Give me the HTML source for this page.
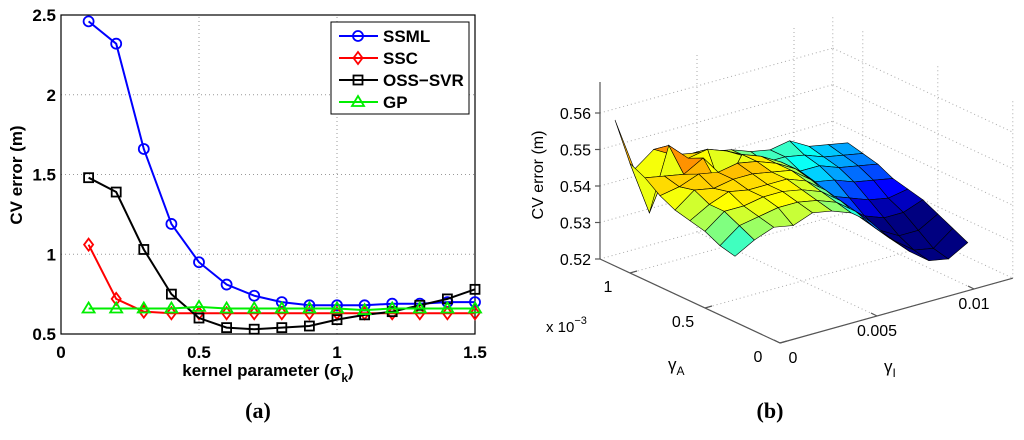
<!DOCTYPE html>
<html><head><meta charset="utf-8"><style>
body{margin:0;background:#fff;width:1024px;height:440px;overflow:hidden}
svg{display:block}
text{font-family:"Liberation Sans",sans-serif}
</style></head><body>
<svg id="fig" width="1024" height="440">
<g id="left"></g>
<g id="right"></g>
<text x="258" y="418" text-anchor="middle" font-size="22" font-weight="bold" style="font-family:'Liberation Serif',serif">(a)</text>
<text x="770" y="418" text-anchor="middle" font-size="22" font-weight="bold" style="font-family:'Liberation Serif',serif">(b)</text>
</svg>
<script>
const xs=[0.1,0.2,0.3,0.4,0.5,0.6,0.7,0.8,0.9,1.0,1.1,1.2,1.3,1.4,1.5];
const ssml=[2.46,2.32,1.66,1.19,0.95,0.81,0.74,0.70,0.68,0.68,0.68,0.69,0.69,0.70,0.70];
const ssc=[1.06,0.72,0.64,0.63,0.63,0.63,0.63,0.63,0.63,0.63,0.63,0.63,0.63,0.63,0.63];
const oss=[1.48,1.39,1.03,0.75,0.60,0.54,0.53,0.54,0.55,0.59,0.62,0.64,0.68,0.72,0.78];
const gp=[0.66,0.66,0.66,0.66,0.67,0.66,0.66,0.66,0.66,0.66,0.65,0.66,0.66,0.66,0.66];
const xTicks=[0,0.5,1,1.5];
const yTicks=[0.5,1,1.5,2,2.5];
const xTickLabels=["0","0.5","1","1.5"];
const yTickLabels=["0.5","1","1.5","2","2.5"];
// 3D surface data: rows over gammaA (x1e-3), columns over gammaI
const gA=[1.1,1.0,0.9,0.8,0.7,0.6,0.5,0.4,0.3];
const gI=[0,0.001,0.002,0.003,0.004,0.005,0.006,0.007,0.008,0.009,0.010,0.011,0.012];
const zVals=[
[0.560,0.545,0.549,0.546,0.545,0.544,0.543,0.541,0.540,0.541,0.538,0.537,0.536],
[0.550,0.535,0.552,0.547,0.548,0.546,0.543,0.540,0.540,0.539,0.537,0.536,0.535],
[0.548,0.547,0.546,0.549,0.538,0.547,0.545,0.542,0.538,0.538,0.536,0.535,0.534],
[0.545,0.546,0.548,0.547,0.548,0.547,0.545,0.542,0.537,0.536,0.534,0.533,0.532],
[0.543,0.547,0.546,0.547,0.547,0.546,0.545,0.541,0.535,0.533,0.531,0.530,0.531],
[0.542,0.545,0.547,0.546,0.546,0.546,0.544,0.540,0.534,0.530,0.528,0.528,0.530],
[0.541,0.545,0.545,0.546,0.546,0.545,0.543,0.539,0.533,0.528,0.525,0.525,0.528],
[0.539,0.543,0.544,0.545,0.545,0.544,0.542,0.538,0.532,0.527,0.523,0.522,0.526],
[0.538,0.541,0.543,0.542,0.544,0.543,0.541,0.537,0.531,0.526,0.522,0.521,0.524]];
const zTicks=[0.52,0.53,0.54,0.55,0.56];
const aTicks=[0,0.5,1];
const iTicks=[0,0.005,0.01];

const NS="http://www.w3.org/2000/svg";
function mk(p,tag,at,txt){const e=document.createElementNS(NS,tag);for(const k in at)e.setAttribute(k,at[k]);if(txt!==undefined)e.textContent=txt;p.appendChild(e);return e;}

// ---- left chart
const L=document.getElementById('left');
const X0=61,X1=475,Y0=334,Y1=15;
const sx=v=>X0+(v-0)/1.5*(X1-X0);
const sy=v=>Y0-(v-0.5)/2*(Y0-Y1);
xTicks.forEach((t,i)=>{
  if(i>0&&i<xTicks.length-1){const g=mk(L,'line',{x1:sx(t),x2:sx(t),y1:Y0,y2:Y1,stroke:'#999','stroke-dasharray':'1,3'});}
  const tx=mk(L,'text',{x:sx(t),y:Y0+24,'text-anchor':'middle','font-size':17,'font-weight':'bold'},xTickLabels[i]);
  
});
yTicks.forEach((t,i)=>{
  if(i>0&&i<yTicks.length-1){const g=mk(L,'line',{x1:X0,x2:X1,y1:sy(t),y2:sy(t),stroke:'#999','stroke-dasharray':'1,3'});}
  const tx=mk(L,'text',{x:X0-5,y:sy(t)+6,'text-anchor':'end','font-size':17,'font-weight':'bold'},yTickLabels[i]);
  
});
const box=mk(L,'rect',{x:X0,y:Y1,width:X1-X0,height:Y0-Y1,fill:'none',stroke:'#000','stroke-width':1.2});

const xl=mk(L,'text',{x:268,y:376,'text-anchor':'middle','font-size':17,'font-weight':'bold'},'kernel parameter (σ');

mk(xl,'tspan',{dy:6,'font-size':12},'k');mk(xl,'tspan',{dy:-6},')');
const yl=mk(L,'text',{x:22,y:175,'text-anchor':'middle','font-size':17,'font-weight':'bold',transform:'rotate(-90 22 175)'},'CV error (m)');


function marker(g,type,x,y,c){
  let e;
  if(type==='o')e=mk(g,'circle',{cx:x,cy:y,r:5,fill:'none',stroke:c,'stroke-width':1.8});
  else if(type==='d')e=mk(g,'polygon',{points:`${x},${y-6} ${x+4.5},${y} ${x},${y+6} ${x-4.5},${y}`,fill:'none',stroke:c,'stroke-width':1.8});
  else if(type==='s')e=mk(g,'rect',{x:x-4.5,y:y-4.5,width:9,height:9,fill:'none',stroke:c,'stroke-width':1.8});
  else e=mk(g,'polygon',{points:`${x},${y-6} ${x+6},${y+4} ${x-6},${y+4}`,fill:'none',stroke:c,'stroke-width':1.8});
  
}
const series=[['ssml',ssml,'#0000ff','o','SSML'],['ssc',ssc,'#ff0000','d','SSC'],['oss-svr',oss,'#000000','s','OSS−SVR'],['gp',gp,'#00ee00','^','GP']];
series.forEach(([n,d,c,m])=>{
  const g=mk(L,'g',{});
  const pl=mk(g,'polyline',{points:xs.map((x,i)=>sx(x)+','+sy(d[i])).join(' '),fill:'none',stroke:c,'stroke-width':2});
  
  xs.forEach((x,i)=>marker(g,m,sx(x),sy(d[i]),c));
});
const lg=mk(L,'g',{});
mk(lg,'rect',{x:331,y:22,width:138,height:92,fill:'#fff',stroke:'#000','stroke-width':1});
series.forEach(([n,d,c,m,lab],k)=>{
  const y=36+k*22;
  const le=mk(lg,'g',{});
  mk(le,'line',{x1:339,x2:378,y1:y,y2:y,stroke:c,'stroke-width':2});
  marker(le,m,358,y,c);
  mk(le,'text',{x:383,y:y+6,'font-size':17,'font-weight':'bold'},lab);
});

// ---- right 3D chart
const R=document.getElementById('right');
const P=(a,i,z)=>[780-150*a+19400*i, 343-70*a-5400*i-(z-0.52)*3650];
const AM=1.2,IM=0.012,ZM=0.5685;
function ln(p,q,at,name){const e=mk(R,'line',Object.assign({x1:p[0],y1:p[1],x2:q[0],y2:q[1]},at));}
const dot={stroke:'#aaa','stroke-dasharray':'1,3','stroke-width':1};
zTicks.forEach(z=>{ln(P(AM,0,z),P(AM,IM,z),dot,'z-grid-line');ln(P(AM,IM,z),P(0,IM,z),dot,'z-grid-line');});
aTicks.forEach(a=>{ln(P(a,0,0.52),P(a,IM,0.52),dot,'a-grid-line');ln(P(a,IM,0.52),P(a,IM,ZM),dot,'a-grid-line');});
iTicks.forEach(i=>{ln(P(0,i,0.52),P(AM,i,0.52),dot,'i-grid-line');ln(P(AM,i,0.52),P(AM,i,ZM),dot,'i-grid-line');});
ln(P(AM,IM,0.52),P(AM,IM,ZM),dot,'corner-grid-line');
const ax={stroke:'#555','stroke-width':1.2};
ln(P(AM,0,0.52),P(AM,0,ZM),ax,'z-axis');
ln(P(AM,0,0.52),P(0,0,0.52),ax,'gammaA-axis');
ln(P(0,0,0.52),P(0,IM,0.52),ax,'gammaI-axis');
zTicks.forEach(z=>{const p=P(AM,0,z);ln(p,[p[0]-5,p[1]],ax,'z-tick');
  const t=mk(R,'text',{x:p[0]-9,y:p[1]+6,'text-anchor':'end','font-size':16},z.toFixed(2));});
aTicks.forEach(a=>{const p=P(a,0,0.52);ln(p,[p[0]+7,p[1]-2],ax,'gammaA-tick');
  const t=mk(R,'text',{x:p[0]-22,y:p[1]+19,'text-anchor':'middle','font-size':16},String(a));});
iTicks.forEach(i=>{const p=P(0,i,0.52);ln(p,[p[0]-6,p[1]-3],ax,'gammaI-tick');
  const t=mk(R,'text',{x:p[0]+(i===0?13:0),y:p[1]+20,'text-anchor':'middle','font-size':16},String(i));});
function jet(v){v=Math.max(0,Math.min(1,v));const f=x=>Math.round(255*Math.max(0,Math.min(1,1.5-Math.abs(4*v-x))));return `rgb(${f(3)},${f(2)},${f(1)})`;}
const CMIN=0.528,CMAX=0.556;
for(let r=0;r<gA.length-1;r++)for(let c=0;c<gI.length-1;c++){
  const pts=[[r,c],[r,c+1],[r+1,c+1],[r+1,c]].map(([a,b])=>P(gA[a],gI[b],zVals[a][b]));
  const zm=(zVals[r][c]+zVals[r][c+1]+zVals[r+1][c]+zVals[r+1][c+1])/4;
  const e=mk(R,'polygon',{points:pts.map(p=>p.join(',')).join(' '),fill:jet((zm-CMIN)/(CMAX-CMIN)),stroke:'#000','stroke-width':0.6});
  
}
const zl=mk(R,'text',{x:543,y:175,'text-anchor':'middle','font-size':16,transform:'rotate(-90 543 175)'},'CV error (m)');

const ex=mk(R,'text',{x:546,y:332,'font-size':15},'x 10');
mk(ex,'tspan',{dy:-8,'font-size':11},'−3');
const al=mk(R,'text',{x:668,y:370,'font-size':17},'γ');
mk(al,'tspan',{dy:5,'font-size':12},'A');
const il=mk(R,'text',{x:884,y:372,'font-size':17},'γ');
mk(il,'tspan',{dy:5,'font-size':12},'I');
</script>
</body></html>
